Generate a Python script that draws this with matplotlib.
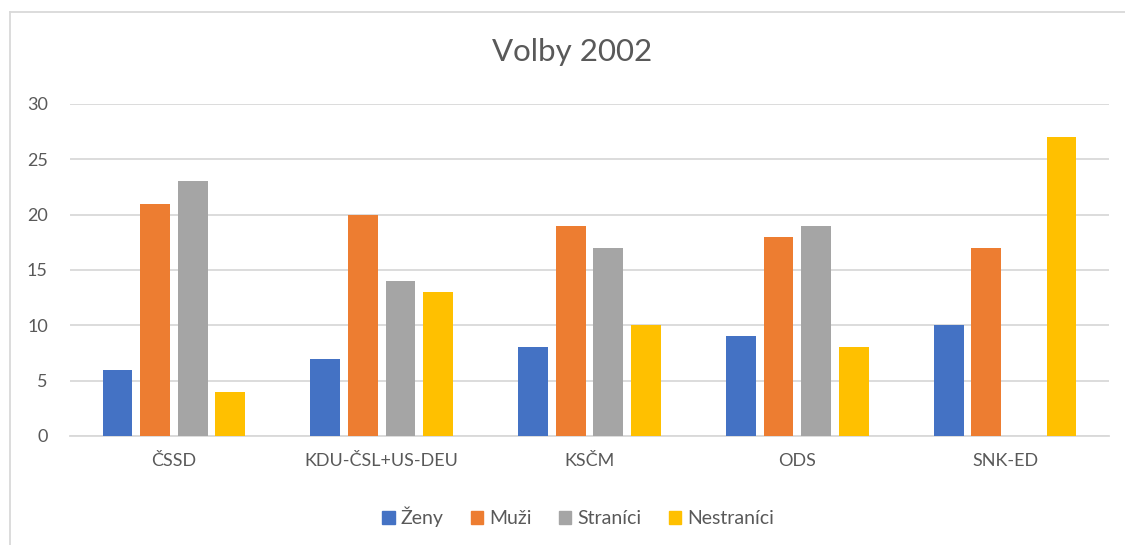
import matplotlib
matplotlib.use("Agg")
import matplotlib.pyplot as plt
import numpy as np
from matplotlib.patches import Rectangle
from matplotlib.lines import Line2D

categories = ["ČSSD", "KDU-ČSL+US-DEU", "KSČM", "ODS", "SNK-ED"]
series_names = ["Ženy", "Muži", "Straníci", "Nestraníci"]
zeny = [6, 7, 8, 9, 10]
muzi = [21, 20, 19, 18, 17]
stranici = [23, 14, 17, 19, 0]
nestranici = [4, 13, 10, 8, 27]
colors = ["#4472C4", "#ED7D31", "#A5A5A5", "#FFC000"]
yticks = [0, 5, 10, 15, 20, 25, 30]
title = "Volby 2002"

plt.rcParams['font.family'] = ['Lato', 'DejaVu Sans']
W, H = 1125, 545
fig = plt.figure(figsize=(W / 100, H / 100), dpi=100)
ax = fig.add_axes([70 / W, 1 - 436 / H, (1109 - 70) / W, (436 - 104) / H])

x = np.arange(len(categories))
bw = 0.144
step = 0.181
data = [zeny, muzi, stranici, nestranici]
for i, (vals, c, name) in enumerate(zip(data, colors, series_names)):
    ax.bar(x + (i - 1.5) * step, vals, width=bw, color=c, label=name, zorder=3)

ax.set_xlim(-0.5, len(categories) - 0.5)
ax.set_ylim(0, 30)
ax.set_yticks(yticks)
ax.set_xticks(x)
ax.set_xticklabels(categories)
ax.yaxis.grid(True, color="#D9D9D9", linewidth=1.3, zorder=0)
for s in ["top", "right", "left"]:
    ax.spines[s].set_visible(False)
ax.spines["bottom"].set_color("#D9D9D9")
ax.spines["bottom"].set_linewidth(1.3)
ax.tick_params(axis="both", length=0, labelsize=13, colors="#595959")
ax.tick_params(axis="y", pad=16)
ax.tick_params(axis="x", pad=12)

fig.text(572 / W, 1 - 52 / H, title, ha="center", va="center", fontsize=22.5, color="#595959")

handles = [Rectangle((0, 0), 1, 1, color=c) for c in colors]
leg = fig.legend(handles, series_names, loc="center", bbox_to_anchor=(578 / W, 1 - 517 / H),
                 ncol=4, frameon=False, fontsize=14, handlelength=0.65, handleheight=0.65,
                 handletextpad=0.3, columnspacing=1.4)
for t in leg.get_texts():
    t.set_color("#595959")

# chart border (left and top visible)
fig.add_artist(Line2D([9.5 / W, 9.5 / W], [0, 1 - 11.5 / H], color="#D9D9D9", linewidth=1.3))
fig.add_artist(Line2D([9.5 / W, 1.0], [1 - 11.5 / H, 1 - 11.5 / H], color="#D9D9D9", linewidth=1.3))

fig.savefig("out.png", dpi=100)
